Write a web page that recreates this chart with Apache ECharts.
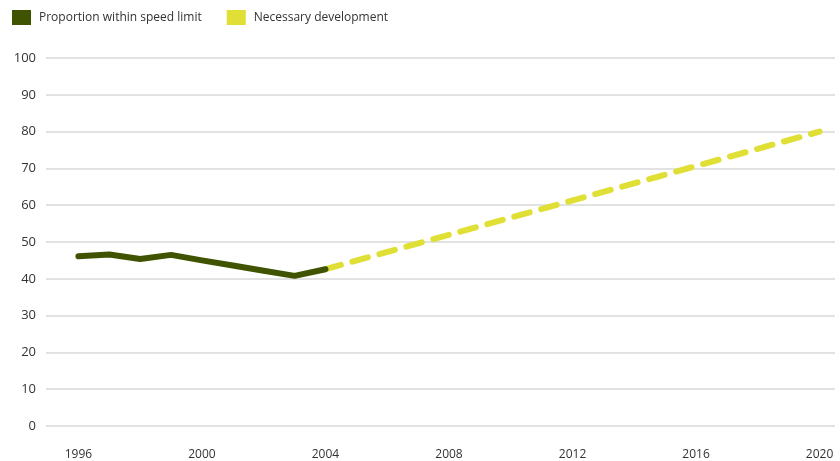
<!DOCTYPE html>
<html><head><meta charset="utf-8">
<script src="https://cdn.jsdelivr.net/npm/echarts@6/dist/echarts.min.js"></script>
<style>html,body{margin:0;padding:0;background:#fff}#c{width:840px;height:461px}</style>
</head><body><div id="c"></div>
<script>
const years = [1996, 1997, 1998, 1999, 2000, 2001, 2002, 2003, 2004];
const proportion = [46.1, 46.6, 45.4, 46.5, 45.0, 43.6, 42.2, 40.8, 42.6];
const devYears = [2004, 2020];
const development = [42.6, 80];
const xTicks = [1996, 2000, 2004, 2008, 2012, 2016, 2020];
const seriesNames = ['Proportion within speed limit', 'Necessary development'];

const chart = echarts.init(document.getElementById('c'));
chart.setOption({
  animation: false,
  backgroundColor: '#fff',
  textStyle: { fontFamily: 'Open Sans' },
  legend: {
    left: 12, top: 10, itemWidth: 19, itemHeight: 15, itemGap: 25, padding: 0,
    textStyle: { fontSize: 12, color: '#333', fontFamily: 'Open Sans', padding: [0, 0, 0, 3] },
    data: [
      { name: seriesNames[0], icon: 'rect' },
      { name: seriesNames[1], icon: 'rect' }
    ]
  },
  grid: { left: 46, right: 5, top: 58, bottom: 32 },
  xAxis: {
    type: 'value', min: 1994.95, max: 2020.5,
    axisLine: { show: false }, axisTick: { show: false }, splitLine: { show: false },
    axisLabel: { customValues: xTicks, formatter: v => String(v), color: '#333', fontSize: 12, margin: 23, fontFamily: 'Open Sans' }
  },
  yAxis: {
    type: 'value', min: 0, max: 100, interval: 10,
    axisLine: { show: false }, axisTick: { show: false },
    splitLine: { lineStyle: { color: '#d9d9d9', width: 1.5 } },
    axisLabel: { color: '#333', fontSize: 13, margin: 10, fontFamily: 'Open Sans' }
  },
  series: [
    {
      name: seriesNames[1], type: 'line', symbol: 'none', z: 2,
      data: devYears.map((y, i) => [y, development[i]]),
      itemStyle: { color: '#dfdf35' },
      lineStyle: { color: '#dfdf35', width: 6, type: [16, 12], cap: 'round' }
    },
    {
      name: seriesNames[0], type: 'line', symbol: 'none', z: 3,
      data: years.map((y, i) => [y, proportion[i]]),
      itemStyle: { color: '#3f5300' },
      lineStyle: { color: '#3f5300', width: 6, cap: 'round', join: 'round' }
    }
  ]
});
</script></body></html>
